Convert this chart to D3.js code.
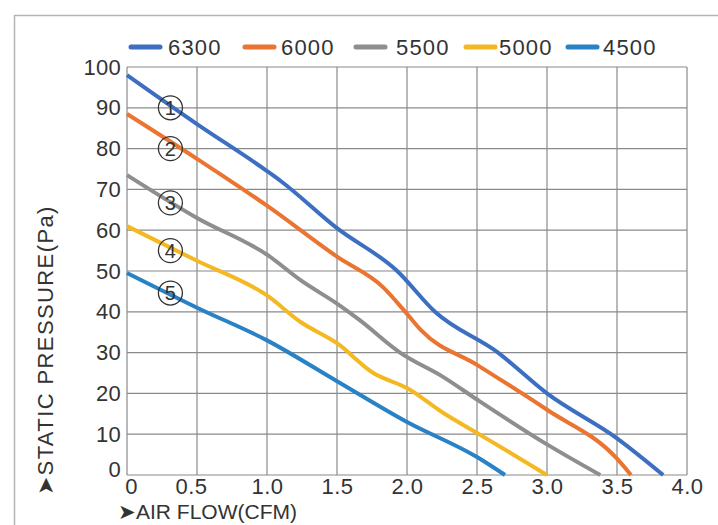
<!DOCTYPE html>
<html>
<head>
<meta charset="utf-8">
<script src="https://cdn.jsdelivr.net/npm/d3@7"></script>
<style>
  html, body { margin: 0; padding: 0; background: #fff; }
  svg { display: block; }
  text { font-family: "Liberation Sans", Arial, sans-serif; fill: #333; }
</style>
</head>
<body>
<svg id="chart" width="718" height="525"></svg>
<script>
// ---- data ----
const seriesNames = ["6300", "6000", "5500", "5000", "4500"];
const seriesColors = ["#3c6fc2", "#ea7430", "#8e8e8e", "#f4b922", "#2a82c6"];

const x6300 = [0, 0.5, 1.0, 1.1, 1.5, 1.93, 2.2, 2.65, 3.0, 3.5, 3.83];
const y6300 = [98, 86, 74.5, 72, 60.5, 50, 40, 30, 20, 9, 0];

const x6000 = [0, 0.5, 1.0, 1.5, 1.83, 2.0, 2.1, 2.5, 3.0, 3.5, 3.6];
const y6000 = [88.5, 77.5, 66, 53.5, 46, 39.5, 35.5, 27, 16, 4, 0];

const x5500 = [0, 0.5, 1.0, 1.25, 1.5, 1.66, 1.95, 2.26, 2.5, 3.0, 3.38];
const y5500 = [73.5, 63, 54, 47.5, 42, 38, 30, 24, 18.5, 7.5, 0];

const x5000 = [0, 0.5, 1.0, 1.24, 1.5, 1.76, 2.0, 2.26, 2.5, 2.74, 3.0];
const y5000 = [61, 52.5, 44, 37.5, 32.3, 25, 21.3, 15.2, 10.3, 5.4, 0];

const x4500 = [0, 0.5, 1.0, 1.5, 2.0, 2.5, 2.7];
const y4500 = [49.5, 41, 33, 23, 13, 4.4, 0];

const xTicks = [0, 0.5, 1.0, 1.5, 2.0, 2.5, 3.0, 3.5, 4.0];
const xTickLabels = ["0", "0.5", "1.0", "1.5", "2.0", "2.5", "3.0", "3.5", "4.0"];
const yTicks = [0, 10, 20, 30, 40, 50, 60, 70, 80, 90, 100];

const markerLabels = ["1", "2", "3", "4", "5"];
const markerX = [0.31, 0.31, 0.31, 0.31, 0.31];
const markerY = [90, 80, 66.7, 55, 44.6];

const xTitle = "➤AIR FLOW(CFM)";
const yTitle = "➤STATIC PRESSURE(Pa)";

// ---- build ----
const seriesX = [x6300, x6000, x5500, x5000, x4500];
const seriesY = [y6300, y6000, y5500, y5000, y4500];
const series = seriesNames.map((n, i) => ({
  name: n, color: seriesColors[i],
  pts: seriesX[i].map((x, j) => [x, seriesY[i][j]])
}));

const svg = d3.select("#chart");
const W = 718, H = 525;
const margin = { left: 127, right: 31, top: 67, bottom: 50 };
const x = d3.scaleLinear().domain([0, 4]).range([margin.left, W - margin.right]);
const y = d3.scaleLinear().domain([0, 100]).range([H - margin.bottom, margin.top]);
const FS = 22;

// outer frame (left and top edges)
svg.append("path")
  .attr("d", `M14.5,${H} L14.5,15.5 L${W},15.5`)
  .attr("fill", "none").attr("stroke", "#b4b4b4").attr("stroke-width", 1.5);

// grid
const gridColor = "#8a8a8a";
svg.append("g").selectAll("line").data(xTicks).join("line")
  .attr("x1", d => x(d)).attr("x2", d => x(d))
  .attr("y1", y(0)).attr("y2", y(100))
  .attr("stroke", gridColor).attr("stroke-width", 1.2);
svg.append("g").selectAll("line").data(yTicks).join("line")
  .attr("x1", x(0)).attr("x2", x(4))
  .attr("y1", d => y(d)).attr("y2", d => y(d))
  .attr("stroke", gridColor).attr("stroke-width", 1.2);

// axes labels via d3 axes (lines hidden)
const xAxis = d3.axisBottom(x).tickValues(xTicks)
  .tickFormat((d, i) => xTickLabels[i]).tickSize(0).tickPadding(3);
const gx = svg.append("g").attr("transform", `translate(0,${y(0)})`).call(xAxis);
gx.select(".domain").remove();
gx.selectAll("text").attr("font-size", FS).attr("fill", "#333")
  .attr("letter-spacing", 0.5)
  .attr("font-family", "Liberation Sans, Arial, sans-serif")
  .attr("dx", (d) => d === 0 ? 4 : (d === 0.5 ? -6 : 0));

const yAxis = d3.axisLeft(y).tickValues(yTicks).tickSize(0).tickPadding(6);
const gy = svg.append("g").attr("transform", `translate(${x(0)},0)`).call(yAxis);
gy.select(".domain").remove();
gy.selectAll("text").attr("font-size", FS).attr("fill", "#333")
  .attr("letter-spacing", 0.3)
  .attr("font-family", "Liberation Sans, Arial, sans-serif")
  .attr("dy", (d) => d === 0 ? "0.05em" : "0.32em");

// curves
const line = d3.line().x(d => x(d[0])).y(d => y(d[1])).curve(d3.curveMonotoneX);
svg.append("g").selectAll("path").data(series).join("path")
  .attr("d", d => line(d.pts))
  .attr("fill", "none").attr("stroke", d => d.color)
  .attr("stroke-width", 4).attr("stroke-linecap", "butt").attr("stroke-linejoin", "round");

// circled markers
const mg = svg.append("g");
markerLabels.forEach((m, i) => {
  mg.append("circle").attr("cx", x(markerX[i])).attr("cy", y(markerY[i])).attr("r", 12)
    .attr("fill", "none").attr("stroke", "#333").attr("stroke-width", 1.3);
  mg.append("text").attr("x", x(markerX[i])).attr("y", y(markerY[i]))
    .attr("text-anchor", "middle").attr("dy", "0.36em")
    .attr("font-size", 20).attr("fill", "#222").text(m);
});

// legend
const legendItems = [
  { sx: 131, tx: 168 }, { sx: 245, tx: 281 }, { sx: 356, tx: 396 },
  { sx: 466, tx: 499 }, { sx: 568, tx: 603 }
];
const lg = svg.append("g");
series.forEach((s, i) => {
  lg.append("line").attr("x1", legendItems[i].sx).attr("x2", legendItems[i].sx + 29)
    .attr("y1", 47).attr("y2", 47).attr("stroke", s.color).attr("stroke-width", 5)
    .attr("stroke-linecap", "round");
  lg.append("text").attr("x", legendItems[i].tx).attr("y", 47).attr("dy", "0.36em")
    .attr("font-size", FS).attr("letter-spacing", 1.2).attr("fill", "#333").text(s.name);
});

// axis titles
svg.append("text").attr("x", 118).attr("y", 511).attr("dy", "0.36em")
  .attr("font-size", 21).attr("fill", "#222").text(xTitle);
svg.append("text").attr("transform", "translate(45,350) rotate(-90)")
  .attr("text-anchor", "middle").attr("dy", "0.36em")
  .attr("font-size", FS).attr("letter-spacing", 1.4).attr("fill", "#222").text(yTitle);
</script>
</body>
</html>
